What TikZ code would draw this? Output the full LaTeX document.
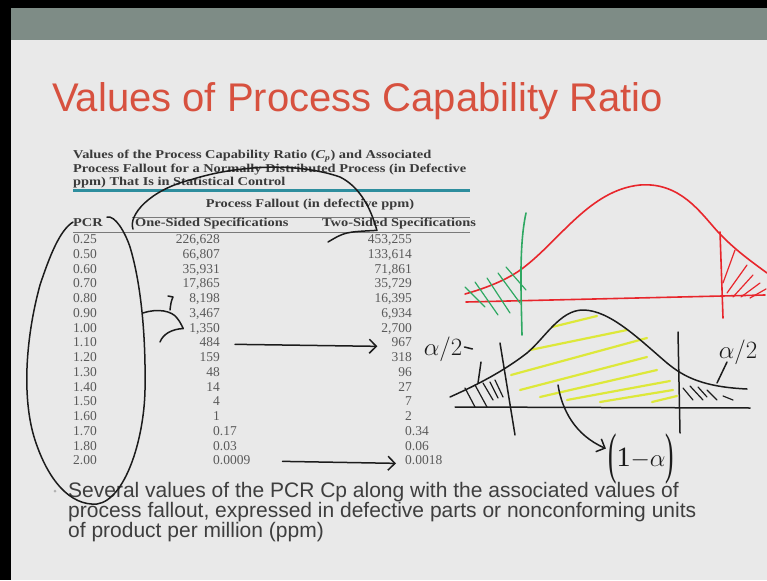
\documentclass[tikz,border=0pt]{standalone}
\usepackage{fontspec}
\usepackage{graphicx}
\setmainfont{Liberation Serif}
\newfontfamily\arialf{Liberation Sans}
\newfontfamily\tabfont[FakeStretch=1.2]{Liberation Serif}
\usetikzlibrary{arrows.meta}
\definecolor{bgc}{HTML}{E9E9E9}
\definecolor{band}{HTML}{7E8C86}
\definecolor{titlered}{HTML}{D7513F}
\definecolor{tealc}{HTML}{2E8E9E}
\definecolor{tabtxt}{HTML}{3A3A3A}
\definecolor{numtxt}{HTML}{5A5A5A}
\definecolor{tabline}{HTML}{7A7A7A}
\definecolor{paratxt}{HTML}{3E3E3E}
\definecolor{ink}{HTML}{1C1C1C}
\definecolor{redink}{HTML}{E8262C}
\definecolor{greenink}{HTML}{2EA862}
\definecolor{yellowink}{HTML}{DDE83A}
\newcommand\tabrow[5]{%
  \pgfmathsetmacro\ry{243.5+14.75*#1}%
  \node[numcell,anchor=base west] (p#1) at (73,\ry) {#2};%
  \ifnum#5=0
    \node[numcell,anchor=base east] (o#1) at (220,\ry) {#3};%
    \node[numcell,anchor=base east] (t#1) at (412,\ry) {#4};%
  \else
    \node[numcell,anchor=base west] (o#1) at (213,\ry) {#3};%
    \node[numcell,anchor=base west] (t#1) at (405,\ry) {#4};%
  \fi}
\newcommand\tallparen[1]{\raisebox{-6pt}{\scalebox{0.9}[2.0]{#1}}}
\begin{document}
\begin{tikzpicture}[x=1pt,y=-1pt,
  tabhead/.style={anchor=base west,inner sep=0pt,text=tabtxt,font=\tabfont\bfseries\fontsize{12}{13}\selectfont},
  numcell/.style={inner sep=0pt,text=numtxt,font=\fontsize{13.5}{14}\selectfont},
  hand/.style={draw=ink,line width=1.5pt,line cap=round,line join=round},
  redhand/.style={draw=redink,line width=1.6pt,line cap=round,line join=round},
  greenhand/.style={draw=greenink,line width=1.6pt,line cap=round,line join=round},
  yelhand/.style={draw=yellowink,line width=2.2pt,line cap=round},
  barb/.style={-{Straight Barb[length=7pt,width=14pt]}},
  hw/.style={inner sep=0pt,text=ink},
  para/.style={anchor=base west,inner sep=0pt,text=paratxt,font=\arialf\fontsize{21}{20}\selectfont}
]
\useasboundingbox (0,0) rectangle (767,580);
\fill[bgc] (0,0) rectangle (767,580);
\fill[black] (0,0) rectangle (767,8);
\fill[black] (0,0) rectangle (11,580);
\fill[band] (11,8) rectangle (767,40);

% title
\node[anchor=base west,inner sep=0pt,text=titlered,font=\arialf\fontsize{40}{40}\selectfont] (title) at (52,112) {Values of Process Capability Ratio};

% table caption
\node[tabhead] (tt1) at (73,159) {Values of the Process Capability Ratio (\textit{C\textsubscript{p}}) and Associated};
\node[tabhead] (tt2) at (73,172) {Process Fallout for a Normally Distributed Process (in Defective};
\node[tabhead] (tt3) at (73,185) {ppm) That Is in Statistical Control};
\draw[tealc,line width=3pt] (73,190) -- (470,190);
\node[tabhead,anchor=base] (pf) at (310,207) {Process Fallout (in defective ppm)};
\draw[tabline,line width=0.7pt] (132,217) -- (470,217);
\node[tabhead] (hpcr) at (73,226) {PCR};
\node[tabhead] (hos) at (135,226) {One-Sided Specifications};
\node[tabhead] (hts) at (322,226) {Two-Sided Specifications};
\draw[tabline,line width=0.7pt] (73,232) -- (470,232);

\tabrow{0}{0.25}{226,628}{453,255}{0}
\tabrow{1}{0.50}{66,807}{133,614}{0}
\tabrow{2}{0.60}{35,931}{71,861}{0}
\tabrow{3}{0.70}{17,865}{35,729}{0}
\tabrow{4}{0.80}{8,198}{16,395}{0}
\tabrow{5}{0.90}{3,467}{6,934}{0}
\tabrow{6}{1.00}{1,350}{2,700}{0}
\tabrow{7}{1.10}{484}{967}{0}
\tabrow{8}{1.20}{159}{318}{0}
\tabrow{9}{1.30}{48}{96}{0}
\tabrow{10}{1.40}{14}{27}{0}
\tabrow{11}{1.50}{4}{7}{0}
\tabrow{12}{1.60}{1}{2}{0}
\tabrow{13}{1.70}{0.17}{0.34}{1}
\tabrow{14}{1.80}{0.03}{0.06}{1}
\tabrow{15}{2.00}{0.0009}{0.0018}{1}

% paragraph
\node[circle,fill=gray!60,inner sep=0pt,minimum size=3pt] (bul) at (55,491) {};
\node[para] (l1) at (68,497) {Several values of the PCR Cp along with the associated values of};
\node[para] (l2) at (68,517) {process fallout, expressed in defective parts or nonconforming units};
\node[para] (l3) at (68,537) {of product per million (ppm)};

% ---- handwriting on the table ----
\coordinate (loopS) at ([shift={(4,-5)}]hpcr.east);
\draw[hand] (loopS) .. controls (115,215) and (125,232) .. (130,247)
  .. controls (140,280) and (146,330) .. (145,390)
  .. controls (144,440) and (125,500) .. (97,504)
  .. controls (70,506) and (48,480) .. (35,440)
  .. controls (22,400) and (25,340) .. (40,285)
  .. controls (50,255) and (60,230) .. (hpcr.west);

\coordinate (tipA) at ([xshift=-6]o6.west);
\draw[hand] (143,313) .. controls (158,308) and (172,311) .. (177,318) .. controls (180,322) .. (tipA);
\draw[hand] (160,342) .. controls (163,334) and (172,329) .. (tipA);
\draw[hand] (168,296) -- (173,297) .. controls (171,302) .. (170,310);

\draw[hand,barb] ([xshift=15,yshift=-2]o7.east) -- ([xshift=-14,yshift=-4]t7.west);
\draw[hand,barb] ([xshift=32,yshift=-1]o15.east) -- ([xshift=-9,yshift=-3]t15.west);

\coordinate (arcS) at ([shift={(-2,6)}]hos.west);
\coordinate (arcE) at ([shift={(-13,-4)}]t0.north);
\draw[hand] (arcS) .. controls (128,215) and (150,190) .. (190,180)
  .. controls (240,164) and (300,163) .. (340,177)
  .. controls (358,186) and (370,205) .. (arcE);
\draw[hand] (328,242) .. controls (345,232) .. (arcE);

% ---- red curve ----
\draw[redhand] (466,302) -- (765,295);
\draw[redhand] (465,294) .. controls (490,287) and (510,278) .. (523,268)
  .. controls (560,240) and (590,190) .. (640,185)
  .. controls (680,182) and (700,212) .. (718,232)
  .. controls (735,250) and (752,262) .. (767,273);
\draw[redhand] (720,232) -- (723,318);
\foreach \a/\b in {{(723,283)}/{(735,250)},{(727,293)}/{(747,265)},{(733,297)}/{(753,275)},{(741,297)}/{(760,283)},{(750,298)}/{(766,289)}}
  \draw[redhand,line width=1.2pt] \a -- \b;

% ---- green ----
\draw[greenhand] (526,213) .. controls (519,245) and (521,290) .. (522,335);
\foreach \a/\b in {{(465,287)}/{(485,307)},{(475,282)}/{(498,315)},{(487,278)}/{(510,313)},{(498,273)}/{(520,303)},{(506,267)}/{(526,290)}}
  \draw[greenhand,line width=1.2pt] \a -- \b;

% ---- yellow hatch ----
\foreach \a/\b in {{(552,327)}/{(597,316)},{(530,350)}/{(627,330)},{(511,375)}/{(647,338)},{(520,390)}/{(647,357)},{(540,397)}/{(657,370)},{(567,400)}/{(670,381)},{(600,402)}/{(673,390)},{(652,402)}/{(677,396)}}
  \draw[yelhand] \a -- \b;

% ---- black curve ----
\draw[hand] (455,407) -- (750,408);
\draw[hand] (450,397) .. controls (470,388) and (500,374) .. (527,353)
  .. controls (545,338) and (560,310) .. (583,310)
  .. controls (610,310) and (640,340) .. (667,363)
  .. controls (685,378) and (705,387) .. (747,389);
\draw[hand] (500,343) -- (515,435);
\draw[hand] (678,332) -- (680,433);
\foreach \a/\b in {{(465,388)}/{(475,407)},{(475,385)}/{(487,407)},{(483,383)}/{(493,400)},{(490,382)}/{(498,398)},{(495,380)}/{(503,397)}}
  \draw[hand,line width=1.2pt] \a -- \b;
\foreach \a/\b in {{(683,388)}/{(693,400)},{(690,386)}/{(703,400)},{(698,387)}/{(707,397)},{(707,390)}/{(717,400)},{(723,396)}/{(733,400)}}
  \draw[hand,line width=1.2pt] \a -- \b;

\node[hw,font=\fontsize{28}{28}\selectfont] (al) at (443,349) {$\alpha/2$};
\node[hw,font=\fontsize{28}{28}\selectfont] (ar) at (738,352) {$\alpha/2$};
\draw[hand] ([xshift=2,yshift=2]al.east) -- ([xshift=10]al.east);
\draw[hand] (481,362) -- (478,383);
\draw[hand] (727,362) -- (717,383);

\node[hw,anchor=base,font=\fontsize{28}{28}\selectfont] (oma) at (641,466) {\tallparen{(}1$\mathord{-}\alpha$\tallparen{)}};
\draw[hand,barb] (558,385) .. controls (562,410) and (575,435) .. ([shift={(-2,-10)}]oma.west);
\end{tikzpicture}
\end{document}
